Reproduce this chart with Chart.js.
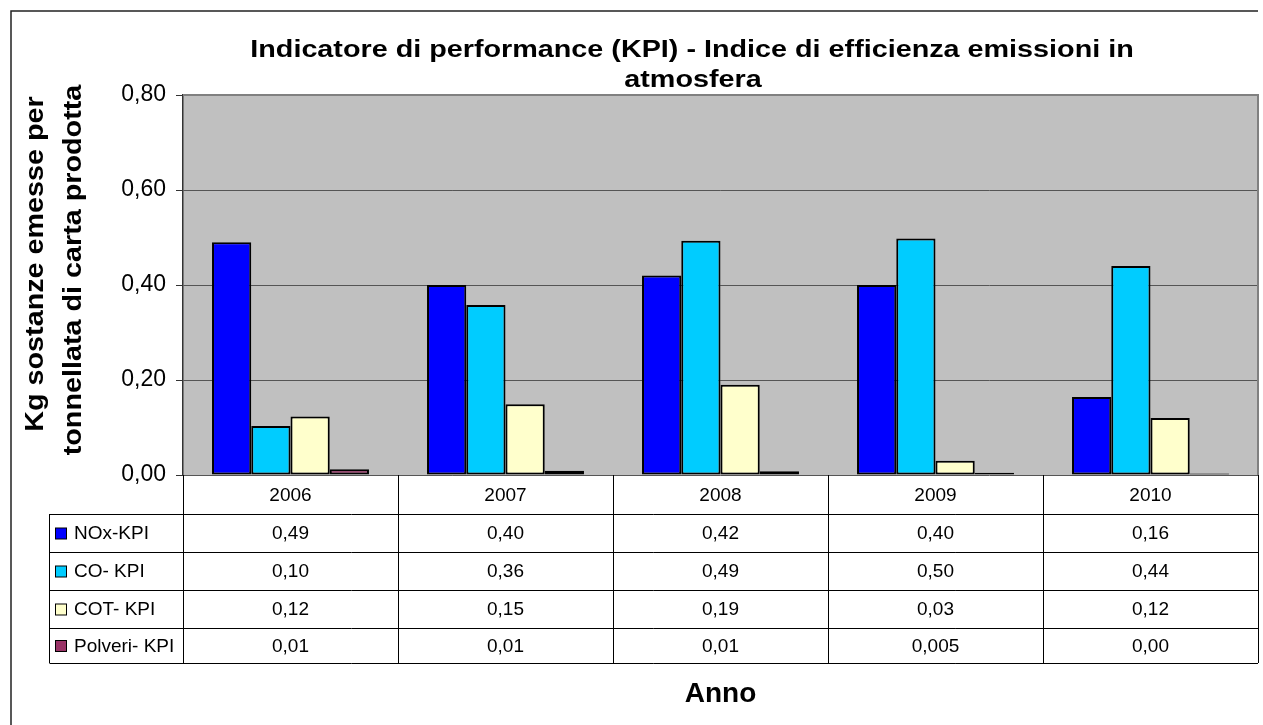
<!DOCTYPE html>
<html>
<head>
<meta charset="utf-8">
<script src="https://cdn.jsdelivr.net/npm/chart.js@4.4.1/dist/chart.umd.min.js"></script>
<style>
  html, body { margin: 0; padding: 0; background: #fff; }
</style>
</head>
<body>
<canvas id="myChart" width="1263" height="725"></canvas>
<script>
// Data
const years = ['2006', '2007', '2008', '2009', '2010'];
const seriesNames = ['NOx-KPI', 'CO- KPI', 'COT- KPI', 'Polveri- KPI'];
const noxKpi = [0.49, 0.40, 0.42, 0.40, 0.164];
const coKpi = [0.103, 0.358, 0.493, 0.498, 0.44];
const cotKpi = [0.123, 0.149, 0.19, 0.03, 0.12];
const polveriKpi = [0.012, 0.009, 0.008, 0.005, 0.003];
const polveriShown = ['0,01', '0,01', '0,01', '0,005', '0,00']; // as printed in the data table
const seriesColors = ['#0000FF', '#00CCFF', '#FFFFCC', '#993366'];

const FONT = '"Liberation Sans", Arial, sans-serif';

function fmt(v) {
    return v.toFixed(2).replace('.', ',');
}

const tableRows = [noxKpi.map(fmt), coKpi.map(fmt), cotKpi.map(fmt), polveriShown];

// text stretched horizontally like the old Excel rendering
function wideText(ctx, txt, x, y, stretch) {
    ctx.save();
    ctx.translate(x, y);
    ctx.scale(stretch, 1);
    ctx.fillText(txt, 0, 0);
    ctx.restore();
}

// Excel-like frame, titles and data table drawn around the plot
const excelLook = {
    id: 'excelLook',
    beforeDraw(chart) {
        const { ctx, chartArea: a } = chart;
        ctx.save();
        ctx.fillStyle = '#fff';
        ctx.fillRect(0, 0, chart.width, chart.height);
        ctx.fillStyle = '#C0C0C0';
        ctx.fillRect(a.left, a.top, a.right - a.left, a.bottom - a.top);
        ctx.restore();
    },
    afterDraw(chart) {
        const { ctx, chartArea: a } = chart;
        const xs = chart.scales.x;
        ctx.save();

        // outer chart border (left + top, the rest is cut off)
        ctx.strokeStyle = '#222';
        ctx.lineWidth = 1.5;
        ctx.beginPath();
        ctx.moveTo(11, 725);
        ctx.lineTo(11, 11);
        ctx.lineTo(a.right, 11);
        ctx.stroke();

        // plot border (top/right gray)
        ctx.strokeStyle = '#808080';
        ctx.lineWidth = 2;
        ctx.beginPath();
        ctx.moveTo(a.left, a.top);
        ctx.lineTo(a.right, a.top);
        ctx.lineTo(a.right, a.bottom);
        ctx.stroke();

        // title
        ctx.fillStyle = '#000';
        ctx.textAlign = 'center';
        ctx.textBaseline = 'alphabetic';
        ctx.font = 'bold 23px ' + FONT;
        wideText(ctx, 'Indicatore di performance (KPI) - Indice di efficienza emissioni in', 692, 57, 1.25);
        wideText(ctx, 'atmosfera', 693, 87, 1.25);

        // y axis title
        ctx.font = 'bold 25px ' + FONT;
        ctx.save();
        ctx.translate(43, 264);
        ctx.rotate(-Math.PI / 2);
        wideText(ctx, 'Kg sostanze emesse per', 0, 0, 1.15);
        ctx.restore();
        ctx.save();
        ctx.translate(81, 270);
        ctx.rotate(-Math.PI / 2);
        wideText(ctx, 'tonnellata di carta prodotta', 0, 0, 1.15);
        ctx.restore();

        // data table
        const half = (xs.getPixelForValue(1) - xs.getPixelForValue(0)) / 2;
        const rowY = [a.bottom, 514, 552, 590, 628, 663];
        const legLeft = 49.5;

        ctx.strokeStyle = '#000';
        ctx.lineWidth = 1;
        ctx.beginPath();
        for (let r = 1; r < rowY.length; r++) {
            ctx.moveTo(legLeft, Math.round(rowY[r]) + 0.5);
            ctx.lineTo(a.right, Math.round(rowY[r]) + 0.5);
        }
        ctx.moveTo(legLeft, rowY[1]);
        ctx.lineTo(legLeft, rowY[5]);
        for (let i = 0; i <= years.length; i++) {
            const bx = Math.round(xs.getPixelForValue(i) - half) + 0.5;
            ctx.moveTo(bx, a.bottom);
            ctx.lineTo(bx, rowY[5]);
        }
        ctx.stroke();

        ctx.font = '19px ' + FONT;
        ctx.textBaseline = 'middle';
        ctx.textAlign = 'center';
        years.forEach((y, i) => {
            ctx.fillText(y, xs.getPixelForValue(i), (rowY[0] + rowY[1]) / 2 + 1);
        });
        tableRows.forEach((row, r) => {
            const cy = (rowY[r + 1] + rowY[r + 2]) / 2 + 1;
            row.forEach((txt, i) => {
                ctx.textAlign = 'center';
                ctx.fillText(txt, xs.getPixelForValue(i), cy);
            });
            // legend key + name
            ctx.fillStyle = seriesColors[r];
            ctx.fillRect(55.5, cy - 6, 11, 11);
            ctx.strokeStyle = '#000';
            ctx.strokeRect(55.5, cy - 6, 11, 11);
            ctx.fillStyle = '#000';
            ctx.textAlign = 'left';
            ctx.fillText(seriesNames[r], 74, cy);
        });

        // x axis title
        ctx.font = 'bold 28px ' + FONT;
        ctx.textAlign = 'center';
        ctx.textBaseline = 'alphabetic';
        ctx.fillText('Anno', (a.left + a.right) / 2, 702);

        ctx.restore();
    }
};

const ctx1 = document.getElementById('myChart');

const data1 = {
    labels: years,
    datasets: [noxKpi, coKpi, cotKpi, polveriKpi].map((vals, i) => ({
        label: seriesNames[i],
        data: vals,
        backgroundColor: seriesColors[i],
        borderColor: '#000',
        borderWidth: 2,
        borderSkipped: false,
        categoryPercentage: 0.73,
        barPercentage: 1.0
    }))
};

const config1 = {
    type: 'bar',
    data: data1,
    options: {
        responsive: false,
        animation: false,
        devicePixelRatio: 1,
        layout: {
            padding: { top: 95, bottom: 250, left: 0, right: 5 }
        },
        plugins: {
            legend: { display: false },
            tooltip: { enabled: false },
            title: { display: false }
        },
        scales: {
            x: {
                display: false
            },
            y: {
                min: 0,
                max: 0.8,
                afterFit(scale) { scale.width = 183; },
                ticks: {
                    stepSize: 0.2,
                    padding: 10,
                    color: '#000',
                    font: { family: FONT, size: 23 },
                    callback: v => fmt(v)
                },
                grid: {
                    color: '#555',
                    lineWidth: 1,
                    tickLength: 7,
                    tickColor: '#333'
                },
                border: { display: true, color: '#333', width: 1.5 }
            }
        }
    },
    plugins: [excelLook]
};

const myChart1 = new Chart(ctx1, config1);
</script>
</body>
</html>
